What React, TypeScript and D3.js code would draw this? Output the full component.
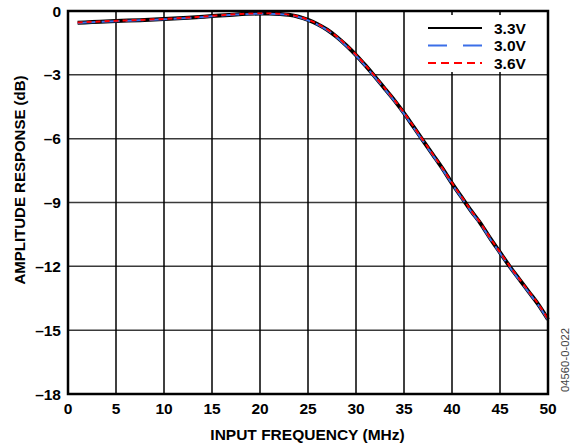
import * as d3 from 'd3';

const FREQ = [1, 2.5, 5, 7.5, 10, 12.5, 15, 17.5, 20, 21, 22, 23, 24, 25, 26, 27, 28, 29, 30, 31, 32, 33, 34, 35, 36, 37, 38, 39, 40, 41, 42, 43, 44, 45, 46, 47, 48, 49, 50];
const V33 = [-0.55, -0.52, -0.47, -0.43, -0.38, -0.32, -0.24, -0.16, -0.12, -0.12, -0.14, -0.18, -0.27, -0.42, -0.62, -0.88, -1.22, -1.62, -2.07, -2.57, -3.1, -3.65, -4.2, -4.8, -5.45, -6.1, -6.75, -7.4, -8.1, -8.75, -9.4, -10.0, -10.7, -11.35, -12.0, -12.6, -13.2, -13.8, -14.5];
const V30 = [-0.56, -0.53, -0.48, -0.44, -0.39, -0.33, -0.25, -0.17, -0.13, -0.13, -0.15, -0.19, -0.28, -0.44, -0.64, -0.9, -1.24, -1.65, -2.1, -2.6, -3.13, -3.68, -4.23, -4.83, -5.48, -6.13, -6.78, -7.43, -8.13, -8.78, -9.43, -10.03, -10.73, -11.38, -12.03, -12.63, -13.23, -13.83, -14.53];
const V36 = [-0.54, -0.51, -0.46, -0.42, -0.37, -0.31, -0.23, -0.15, -0.11, -0.11, -0.13, -0.17, -0.26, -0.41, -0.61, -0.87, -1.2, -1.6, -2.05, -2.55, -3.08, -3.63, -4.18, -4.78, -5.43, -6.08, -6.73, -7.38, -8.08, -8.73, -9.38, -9.98, -10.68, -11.33, -11.98, -12.58, -13.18, -13.78, -14.48];

const X_TICKS = [0, 5, 10, 15, 20, 25, 30, 35, 40, 45, 50];
const Y_TICKS = [0, -3, -6, -9, -12, -15, -18];

const SERIES = [
  { label: '3.3V', values: V33, color: '#000000', width: 4, dash: undefined as string | undefined, legendDash: undefined as string | undefined },
  { label: '3.0V', values: V30, color: '#3b6fe8', width: 2, dash: '18 6', legendDash: '19 16' },
  { label: '3.6V', values: V36, color: '#ff0000', width: 2, dash: '5 4', legendDash: '8 5' },
];

const WIDTH = 571;
const HEIGHT = 445;
const LEFT = 68;
const RIGHT = 548;
const TOP = 11;
const BOTTOM = 394;

const FONT = '"Liberation Sans", Arial, sans-serif';

export default function App() {
  const x = d3.scaleLinear().domain([0, 50]).range([LEFT, RIGHT]);
  const y = d3.scaleLinear().domain([-18, 0]).range([BOTTOM, TOP]);

  const line = (vals: number[]) =>
    d3
      .line<number>()
      .x((_, i) => x(FREQ[i]))
      .y((d) => y(d))
      .curve(d3.curveMonotoneX)(vals) ?? '';

  return (
    <svg
      width={WIDTH}
      height={HEIGHT}
      style={{ position: 'absolute', left: 0, top: 0, background: '#fff' }}
      fontFamily={FONT}
    >
      {/* horizontal grid */}
      {Y_TICKS.slice(1, -1).map((t) => (
        <line key={t} x1={LEFT} x2={RIGHT} y1={y(t)} y2={y(t)} stroke="#3a3a3a" strokeWidth={1.5} />
      ))}
      {/* vertical grid */}
      {X_TICKS.slice(1, -1).map((t) => (
        <line key={t} x1={x(t)} x2={x(t)} y1={TOP} y2={BOTTOM} stroke="#000" strokeWidth={1.5} />
      ))}

      {/* legend backdrop */}
      <rect x={416} y={15} width={130} height={57} fill="#fff" />

      {/* curves */}
      {SERIES.map((s) => (
        <path
          key={s.label}
          d={line(s.values)}
          fill="none"
          stroke={s.color}
          strokeWidth={s.width}
          strokeDasharray={s.dash}
        />
      ))}

      {/* frame */}
      <rect x={LEFT} y={TOP} width={RIGHT - LEFT} height={BOTTOM - TOP} fill="none" stroke="#000" strokeWidth={2.5} />

      {/* legend */}
      {SERIES.map((s, i) => (
        <g key={s.label}>
          <line
            x1={428}
            x2={482}
            y1={28 + i * 17.5}
            y2={28 + i * 17.5}
            stroke={s.color}
            strokeWidth={2}
            strokeDasharray={s.legendDash}
          />
          <text x={494} y={33.5 + i * 17.5} fontSize={15.5} fontWeight={700} fill="#000">
            {s.label}
          </text>
        </g>
      ))}

      {/* y ticks */}
      {Y_TICKS.map((t) => (
        <text key={t} x={61} y={y(t) + 5.5} textAnchor="end" fontSize={15.5} fontWeight={700} fill="#000">
          {t === 0 ? '0' : `\u2013${Math.abs(t)}`}
        </text>
      ))}
      {/* x ticks */}
      {X_TICKS.map((t) => (
        <text key={t} x={x(t)} y={414} textAnchor="middle" fontSize={15.5} fontWeight={700} fill="#000">
          {t}
        </text>
      ))}

      <text x={(LEFT + RIGHT) / 2 - 0.5} y={439.5} textAnchor="middle" fontSize={15.5} fontWeight={700} fill="#000">
        INPUT FREQUENCY (MHz)
      </text>
      <text
        transform={`translate(25,180) rotate(-90)`}
        textAnchor="middle"
        fontSize={15}
        fontWeight={700}
        fill="#000"
      >
        AMPLITUDE RESPONSE (dB)
      </text>
      <text
        transform={`translate(569,360) rotate(-90)`}
        textAnchor="middle"
        fontSize={10}
        textLength={64}
        lengthAdjust="spacingAndGlyphs"
        fill="#444"
      >
        04560-0-022
      </text>
    </svg>
  );
}
